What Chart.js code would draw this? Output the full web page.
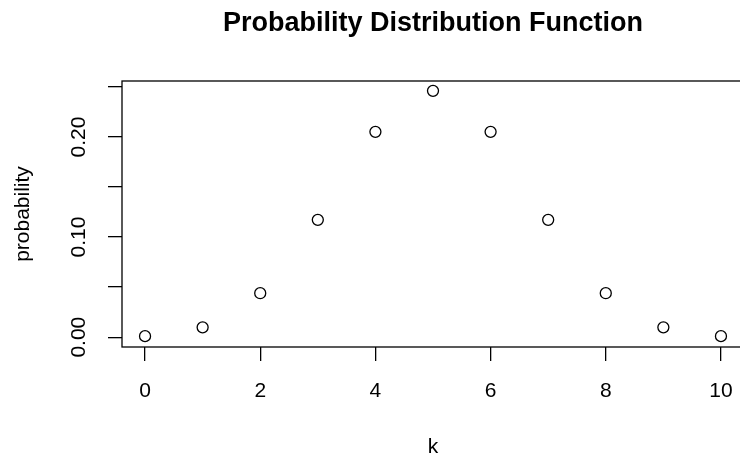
<!DOCTYPE html>
<html>
<head>
<meta charset="utf-8">
<script src="https://cdn.jsdelivr.net/npm/chart.js@4/dist/chart.umd.min.js"></script>
<style>
  html, body { margin: 0; padding: 0; background: #fff; overflow: hidden; }
  #wrap { width: 740px; height: 459px; overflow: hidden; }
</style>
</head>
<body>
<div id="wrap"><canvas id="chart" width="760" height="459"></canvas></div>
<script>
// binomial pmf
const kValues = [0, 1, 2, 3, 4, 5, 6, 7, 8, 9, 10];
const probabilities = [0.001, 0.0098, 0.0439, 0.1172, 0.2051, 0.2461, 0.2051, 0.1172, 0.0439, 0.0098, 0.001];

const xTickValues = [0, 2, 4, 6, 8, 10];
const xTickLabels = ['0', '2', '4', '6', '8', '10'];
const yTickValues = [0, 0.05, 0.10, 0.15, 0.20, 0.25];
const yTickLabels = ['0.00', '', '0.10', '', '0.20', ''];

Chart.defaults.font.family = '"Liberation Sans", Arial, sans-serif';
Chart.defaults.color = '#000';

// box around the plot region + vertical y tick labels (R style)
const rFrame = {
    id: 'rFrame',
    afterDraw(chart) {
        const { ctx, chartArea: a, scales } = chart;
        ctx.save();
        ctx.strokeStyle = '#000';
        ctx.lineWidth = 1.3;
        ctx.strokeRect(a.left, a.top, a.right - a.left, a.bottom - a.top);

        ctx.font = '21px "Liberation Sans", Arial, sans-serif';
        ctx.fillStyle = '#000';
        ctx.textAlign = 'center';
        ctx.textBaseline = 'middle';
        yTickValues.forEach((v, i) => {
            if (!yTickLabels[i]) return;
            const y = scales.y.getPixelForValue(v);
            ctx.save();
            ctx.translate(a.left - 43, y);
            ctx.rotate(-Math.PI / 2);
            ctx.fillText(yTickLabels[i], 0, 0);
            ctx.restore();
        });
        ctx.restore();
    }
};

new Chart(document.getElementById('chart'), {
    type: 'scatter',
    data: {
        datasets: [{
            data: kValues.map((k, i) => ({ x: k, y: probabilities[i] })),
            pointStyle: 'circle',
            pointRadius: 5.5,
            pointHoverRadius: 5.5,
            borderWidth: 1.3,
            borderColor: '#000',
            backgroundColor: 'rgba(0,0,0,0)'
        }]
    },
    options: {
        responsive: false,
        animation: false,
        devicePixelRatio: 1,
        layout: { padding: { top: 0, left: 0, right: 16, bottom: 0 } },
        plugins: {
            legend: { display: false },
            tooltip: { enabled: false },
            title: {
                display: true,
                text: 'Probability Distribution Function',
                fullSize: false,
                color: '#000',
                font: { size: 27, weight: 'bold' },
                padding: { top: 7.4, bottom: 41.2 }
            }
        },
        scales: {
            x: {
                type: 'linear',
                min: -0.4,
                max: 10.4,
                afterBuildTicks: (s) => { s.ticks = xTickValues.map(v => ({ value: v })); },
                afterFit: (s) => { s.height = 112; },
                ticks: {
                    callback: (v) => xTickLabels[xTickValues.indexOf(v)],
                    font: { size: 21 },
                    padding: 17.4,
                    maxRotation: 0,
                    autoSkip: false
                },
                grid: {
                    drawOnChartArea: false,
                    drawTicks: true,
                    tickLength: 14,
                    tickColor: '#000',
                    tickWidth: 1.3,
                    lineWidth: 1.3
                },
                border: { display: false },
                title: {
                    display: true,
                    text: 'k',
                    font: { size: 21, lineHeight: 1 },
                    padding: { top: 0, bottom: 1 }
                }
            },
            y: {
                type: 'linear',
                min: -0.00984,
                max: 0.2559,
                afterBuildTicks: (s) => { s.ticks = yTickValues.map(v => ({ value: v })); },
                afterFit: (s) => { s.width = 122; },
                ticks: { display: false },
                grid: {
                    drawOnChartArea: false,
                    drawTicks: true,
                    tickLength: 14,
                    tickColor: '#000',
                    tickWidth: 1.3,
                    lineWidth: 1.3
                },
                border: { display: false },
                title: {
                    display: true,
                    text: 'probability',
                    font: { size: 21, lineHeight: 1 },
                    padding: { top: 12.5, bottom: 0 }
                }
            }
        }
    },
    plugins: [rFrame]
});
</script>
</body>
</html>
